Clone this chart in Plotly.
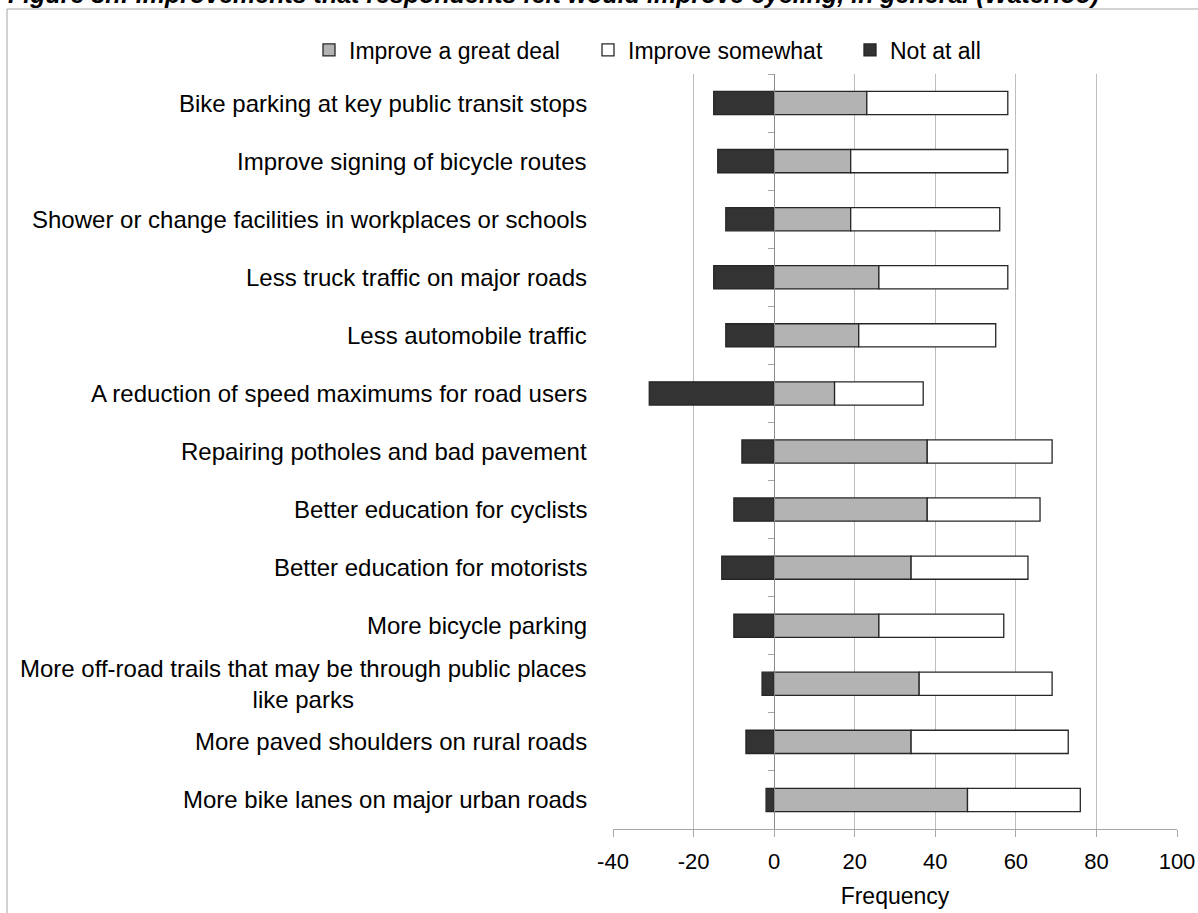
import plotly.graph_objects as go

# Survey items, listed from the top row of the chart to the bottom
categories = [
    "Bike parking at key public transit stops",
    "Improve signing of bicycle routes",
    "Shower or change facilities in workplaces or schools",
    "Less truck traffic on major roads",
    "Less automobile traffic",
    "A reduction of speed maximums for road users",
    "Repairing potholes and bad pavement",
    "Better education for cyclists",
    "Better education for motorists",
    "More bicycle parking",
    "More off-road trails that may be through public places<br>like parks",
    "More paved shoulders on rural roads",
    "More bike lanes on major urban roads",
]

# Response counts per item
great_deal = [23, 19, 19, 26, 21, 15, 38, 38, 34, 26, 36, 34, 48]
somewhat = [35, 39, 37, 32, 34, 22, 31, 28, 29, 31, 33, 39, 28]
not_at_all = [15, 14, 12, 15, 12, 31, 8, 10, 13, 10, 3, 7, 2]

x_ticks = [-40, -20, 0, 20, 40, 60, 80, 100]

FONT = "Liberation Sans, Arial, sans-serif"
W, H = 1198, 913
L, R, T, B = 613, 21, 74, 84
PW, PH = W - L - R, H - T - B


def px_x(p):
    return (p - L) / PW


def px_y(p):
    return 1 - (p - T) / PH


edge = dict(color="#262626", width=1.3)

fig = go.Figure()
fig.add_trace(go.Bar(
    y=categories, x=great_deal, orientation="h", name="Improve a great deal",
    marker=dict(color="#b3b3b3", line=edge), width=0.4, legend="legend",
))
fig.add_trace(go.Bar(
    y=categories, x=somewhat, orientation="h", name="Improve somewhat",
    marker=dict(color="#ffffff", line=edge), width=0.4, legend="legend2",
))
fig.add_trace(go.Bar(
    y=categories, x=[-v for v in not_at_all], orientation="h", name="Not at all",
    marker=dict(color="#333333", line=edge), width=0.4, legend="legend3",
))

# Category labels, right-aligned to the left of the plot, multi-line centred
annotations = [
    dict(xref="paper", yref="y", x=px_x(589), y=c, text=c, showarrow=False,
         xanchor="right", yanchor="middle", align="center",
         font=dict(family=FONT, size=24, color="#000000"))
    for c in categories
]
annotations.append(dict(
    xref="paper", yref="paper", x=px_x(6), y=px_y(-6),
    text="Figure 8h: Improvements that respondents felt would improve cycling, in general (Waterloo)",
    showarrow=False, xanchor="left", yanchor="middle",
    font=dict(family=FONT, size=25, color="#000000", style="italic", weight="bold"),
))


def legend_at(px):
    return dict(orientation="h", x=px_x(px), xanchor="left", y=px_y(50), yanchor="middle",
                font=dict(family=FONT, size=23, color="#000000"),
                bgcolor="rgba(0,0,0,0)", borderwidth=0)


fig.update_layout(
    width=W, height=H,
    margin=dict(l=L, r=R, t=T, b=B, pad=0),
    barmode="relative",
    plot_bgcolor="#ffffff", paper_bgcolor="#ffffff",
    font=dict(family=FONT, size=22, color="#000000"),
    showlegend=True,
    legend=legend_at(309),
    legend2=legend_at(588),
    legend3=legend_at(850),
    annotations=annotations,
    shapes=[dict(type="rect", xref="paper", yref="paper",
                 x0=px_x(7), x1=px_x(1210), y0=px_y(925), y1=px_y(9),
                 line=dict(color="#a6a6a6", width=1), fillcolor="rgba(0,0,0,0)",
                 layer="below")],
    xaxis=dict(
        range=[-40, 100], tickvals=x_ticks, ticktext=[str(v) for v in x_ticks],
        showgrid=True, gridcolor="#bdbdbd", gridwidth=1, zeroline=False,
        showline=True, linecolor="#a6a6a6", linewidth=1,
        ticks="outside", ticklen=7, tickcolor="#a6a6a6", tickwidth=1,
        ticklabelstandoff=6,
        tickfont=dict(family=FONT, size=22, color="#000000"),
        title=dict(text="Frequency", font=dict(family=FONT, size=23, color="#000000"), standoff=14),
        automargin=False,
        fixedrange=True,
    ),
    yaxis=dict(
        type="category", categoryorder="array", categoryarray=categories,
        autorange="reversed",
        anchor="free", position=40 / 140,
        showline=True, linecolor="#8c8c8c", linewidth=1,
        ticks="outside", tickson="boundaries", ticklen=6, tickcolor="#a6a6a6",
        showticklabels=False, showgrid=False, zeroline=False,
        automargin=False,
        fixedrange=True,
    ),
)

fig.write_html("out.html")
